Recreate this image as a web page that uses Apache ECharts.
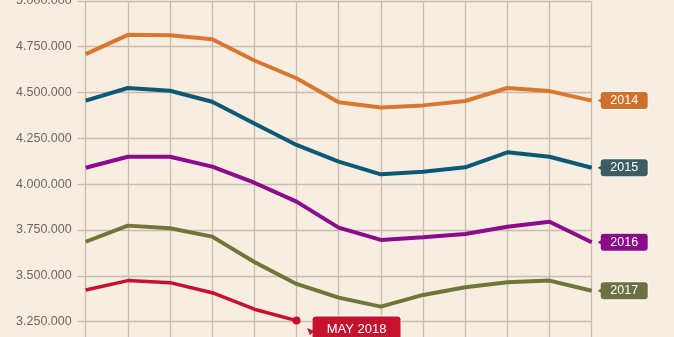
<!DOCTYPE html>
<html>
<head>
<meta charset="utf-8">
<script src="https://cdn.jsdelivr.net/npm/echarts@6/dist/echarts.min.js"></script>
<style>
html,body{margin:0;padding:0;background:#f8ede1;overflow:hidden;width:674px;height:337px;}
#wrap{width:674px;height:337px;overflow:hidden;position:relative;}
#chart{width:674px;height:380px;position:absolute;left:0;top:0;}
</style>
</head>
<body>
<div id="wrap"><div id="chart"></div></div>
<script>
var months = ['DEC','JAN','FEB','MAR','APR','MAY','JUN','JUL','AUG','SEP','OCT','NOV','DEC'];
var y2014 = [4710000,4815000,4812000,4791000,4675000,4578000,4447000,4419000,4430000,4454000,4525000,4508000,4456000];
var y2015 = [4456000,4525000,4510000,4450000,4331000,4214000,4123000,4054000,4068000,4092000,4174000,4150000,4090000];
var y2016 = [4090000,4150000,4150000,4096000,4008000,3905000,3763000,3696000,3710000,3728000,3768000,3795000,3683000];
var y2017 = [3686000,3774000,3760000,3714000,3576000,3456000,3381000,3332000,3396000,3438000,3465000,3474000,3419000];
var y2018 = [3423000,3474000,3463000,3408000,3318000,3256000];
var yTicks = {min:3000000, max:5000000, interval:250000};

var FONT = '"Liberation Sans Narrow","Liberation Sans",Arial,sans-serif';
var GRID = '#cbbca9';

function tag(text, bg){
  return {
    show:true, formatter:'{t|' + text + '}', distance:9,
    backgroundColor:bg, borderRadius:3, padding:[1,0,1,0],
    borderColor:'rgba(255,255,255,0.7)', borderWidth:1,
    rich:{t:{color:'#fff', fontFamily:FONT, fontSize:12.5, lineHeight:15, width:47, align:'center'}}
  };
}
function pointer(data, idx, color, offset, rotate, size){
  return {
    silent:true, animation:false, label:{show:false},
    data:[{coord:[idx, data[idx]], symbol:'triangle', symbolSize:size,
           symbolRotate:rotate, symbolOffset:offset, itemStyle:{color:color}}]
  };
}
function lineSeries(name, data, color, tagColor){
  return {
    name:name, type:'line', data:data, symbol:'none', smooth:false,
    lineStyle:{color:color, width:4}, itemStyle:{color:color},
    endLabel: tag(name, tagColor), silent:true, animation:false,
    markPoint: pointer(data, data.length-1, tagColor, [8,0], 90, [5,4])
  };
}
var d2018 = y2018.map(function(v,i){
  return i === y2018.length-1 ? {value:v, symbol:'circle', symbolSize:8} : v;
});

var chart = echarts.init(document.getElementById('chart'), null, {renderer:'canvas'});
chart.setOption({
  backgroundColor:'#f8ede1',
  animation:false,
  grid:{left:85.7, right:82.3, top:0.9, bottom:12.5, containLabel:false, outerBoundsMode:'none'},
  xAxis:{
    type:'category', data:months, boundaryGap:false,
    axisLine:{show:false}, axisTick:{show:false}, axisLabel:{show:false},
    splitLine:{show:true, lineStyle:{color:GRID, width:1.3}}
  },
  yAxis:{
    type:'value', min:yTicks.min, max:yTicks.max, interval:yTicks.interval,
    axisLine:{show:false},
    axisTick:{show:true, length:8, lineStyle:{color:GRID, width:1.3}},
    axisLabel:{
      margin:14, color:'#6d6862', fontFamily:FONT, fontSize:12.5,
      formatter:function(v){ return String(v).replace(/\B(?=(\d{3})+(?!\d))/g,'.'); }
    },
    splitLine:{show:true, lineStyle:{color:GRID, width:1.3}}
  },
  series:[
    lineSeries('2014', y2014, '#d9772f', '#d0712b'),
    lineSeries('2015', y2015, '#0c5877', '#3d5d64'),
    lineSeries('2016', y2016, '#8c0a8c', '#8a0b87'),
    lineSeries('2017', y2017, '#707638', '#6d7043'),
    {
      name:'MAY 2018', type:'line', data:d2018, symbol:'none', showSymbol:true,
      lineStyle:{color:'#c8102e', width:3.5}, itemStyle:{color:'#c8102e'},
      silent:true, animation:false,
      endLabel:{
        show:true, formatter:'{t|MAY 2018}', distance:16, offset:[0,9],
        backgroundColor:'#c4122f', borderRadius:3, padding:[5,0,5,0],
        borderColor:'rgba(255,255,255,0.7)', borderWidth:1,
        rich:{t:{color:'#fff', fontFamily:FONT, fontSize:13, lineHeight:16, width:88, align:'center'}}
      },
      markPoint: pointer(y2018, y2018.length-1, '#c4122f', [13,10], 45, [6,7])
    }
  ]
});
</script>
</body>
</html>
